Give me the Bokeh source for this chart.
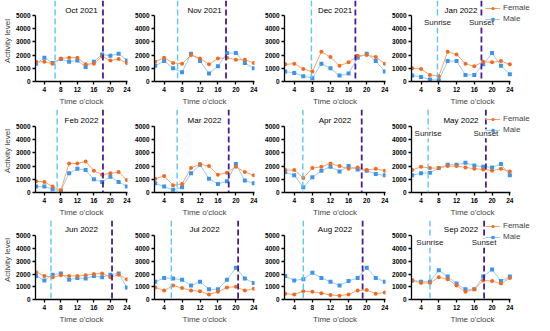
from bokeh.plotting import figure
from bokeh.layouts import gridplot
from bokeh.models import Range1d, Span, Label, Legend, LegendItem, FixedTicker
from bokeh.embed import file_html
from bokeh.resources import INLINE

hours = [2, 4, 6, 8, 10, 12, 14, 16, 18, 20, 22, 24]
months = ["Oct 2021", "Nov 2021", "Dec 2021", "Jan 2022",
          "Feb 2022", "Mar 2022", "Apr 2022", "May 2022",
          "Jun 2022", "Jul 2022", "Aug 2022", "Sep 2022"]

female_oct21 = [1500, 1500, 1350, 1750, 1800, 1800, 1300, 1350, 1900, 1600, 1700, 1400]
male_oct21 = [1350, 1800, 1400, 1700, 1500, 1600, 1100, 1500, 2050, 1950, 2100, 1600]
female_nov21 = [1500, 1800, 1400, 1350, 2000, 1750, 1300, 1750, 1800, 1650, 1650, 1400]
male_nov21 = [1200, 1550, 1000, 700, 2100, 1550, 600, 1150, 2150, 2150, 1400, 1000]
female_dec21 = [1300, 1350, 950, 750, 2250, 1850, 1200, 1450, 1950, 2000, 1850, 1350]
male_dec21 = [750, 650, 400, 250, 1350, 1000, 450, 600, 1800, 2100, 1550, 750]
female_jan22 = [1000, 950, 500, 400, 2250, 2050, 1350, 1150, 1500, 1450, 1550, 1300]
male_jan22 = [450, 350, 150, 100, 1550, 1550, 500, 500, 1300, 2150, 1200, 550]
female_feb22 = [850, 800, 450, 150, 2200, 2200, 2350, 1650, 1350, 1450, 1550, 950]
male_feb22 = [450, 450, 250, 150, 1450, 1800, 1700, 1000, 800, 1200, 800, 450]
female_mar22 = [1050, 1250, 550, 650, 1850, 2150, 2000, 1350, 1500, 1950, 1550, 1300]
male_mar22 = [700, 450, 200, 400, 1450, 2100, 1050, 650, 850, 2150, 900, 700]
female_apr22 = [1700, 1700, 1100, 1850, 1950, 2200, 2000, 1800, 1900, 1700, 1800, 1650]
male_apr22 = [1550, 1300, 400, 1150, 1650, 1950, 1600, 2000, 1750, 1650, 1400, 1300]
female_may22 = [1700, 1950, 1850, 1850, 2000, 2000, 1900, 1800, 1750, 1650, 1800, 1600]
male_may22 = [1300, 1450, 1500, 1850, 2100, 2100, 2250, 2050, 1950, 1900, 2150, 1300]
female_jun22 = [2150, 1850, 1750, 1900, 1850, 1850, 1900, 2000, 2050, 1750, 1950, 1600]
male_jun22 = [1850, 1500, 1950, 2050, 1550, 1700, 1650, 1850, 1750, 1950, 2050, 950]
female_jul22 = [950, 700, 1100, 900, 700, 650, 400, 600, 950, 1000, 700, 850]
male_jul22 = [1400, 1700, 1650, 1550, 1100, 1400, 800, 800, 1550, 2500, 1650, 1300]
female_aug22 = [450, 400, 650, 600, 500, 350, 300, 400, 700, 750, 450, 550]
male_aug22 = [1850, 1500, 1600, 2100, 1700, 1400, 1100, 1450, 1700, 2500, 1700, 1400]
female_sep22 = [1500, 1300, 1300, 1750, 1600, 1100, 600, 800, 1500, 1450, 1250, 1700]
male_sep22 = [1500, 1400, 1400, 2300, 1800, 1250, 800, 800, 1800, 2350, 1450, 1800]

sunrise = [6.6, 7.0, 7.8, 7.7, 7.1, 6.9, 5.9, 5.6, 5.6, 5.6, 6.0, 6.0]
sunset = [18.2, 17.8, 17.5, 17.6, 18.2, 18.4, 18.9, 18.6, 20.4, 20.5, 19.1, 18.2]

x_ticks = [4, 8, 12, 16, 20, 24]
y_ticks = [0, 1000, 2000, 3000, 4000, 5000]

female_all = [female_oct21, female_nov21, female_dec21, female_jan22,
              female_feb22, female_mar22, female_apr22, female_may22,
              female_jun22, female_jul22, female_aug22, female_sep22]
male_all = [male_oct21, male_nov21, male_dec21, male_jan22,
            male_feb22, male_mar22, male_apr22, male_may22,
            male_jun22, male_jul22, male_aug22, male_sep22]

FONT = "Liberation Sans"
F_MARK = "#F26A1F"
F_LINE = "#F6A36C"
M_MARK = "#3C95EA"
M_LINE = "#9CCAF3"
SUNRISE = "#5EC6F5"
SUNSET = "#4A1A9C"

X0, X1 = 1.85, 24.15
PLOT_H = 66                       # pixels from 0 to 5000
col_borders = [(31, 4), (23, 4), (26, 4), (22, 0)]
col_frames = [96, 100, 101, 122]
row_top = [15, 17, 16]            # pixels above the 5000 tick inside frame
row_bottom = [28, 28, 24]
title_off = [5, 6, 6]
legend_y = [58, 58, 58]

grid = []
for r in range(3):
    row = []
    for c in range(4):
        i = r * 4 + c
        lb, rb = col_borders[c]
        fh = PLOT_H + row_top[r]
        fw = col_frames[c]
        ppu = 99 / (X1 - X0) if c == 3 else fw / (X1 - X0)
        x_end = X0 + fw / ppu
        y_end = 5000 + row_top[r] * 5000 / PLOT_H
        p = figure(title=None, output_backend="svg", toolbar_location=None,
                   width=lb + fw + rb, height=fh + row_bottom[r],
                   min_border_left=lb, min_border_right=rb,
                   min_border_top=0, min_border_bottom=row_bottom[r],
                   x_range=Range1d(X0, x_end), y_range=Range1d(0, y_end))
        p.outline_line_color = None
        p.xgrid.visible = False
        p.ygrid.visible = False
        p.background_fill_color = "white"
        p.border_fill_color = "white"

        for ax in (p.xaxis[0], p.yaxis[0]):
            ax.axis_line_width = 1.3
            ax.axis_line_color = "black"
            ax.major_tick_line_width = 1.3
            ax.major_tick_line_color = "black"
            ax.major_tick_out = 3
            ax.major_tick_in = 0
            ax.minor_tick_line_color = None
            ax.major_label_text_font = FONT
            ax.major_label_text_font_size = "6.5px"
            ax.major_label_text_font_style = "bold"
            ax.major_label_text_color = "black"
            ax.major_label_standoff = 2
        p.xaxis[0].bounds = (X0, X1)
        p.yaxis[0].bounds = (0, 5000)
        p.xaxis[0].ticker = FixedTicker(ticks=x_ticks)
        p.yaxis[0].ticker = FixedTicker(ticks=y_ticks)
        p.xaxis[0].axis_label = "Time o'clock"
        p.xaxis[0].axis_label_text_font = FONT
        p.xaxis[0].axis_label_text_font_size = "8px"
        p.xaxis[0].axis_label_text_font_style = "normal"
        p.xaxis[0].axis_label_standoff = 2
        if c == 0:
            p.yaxis[0].axis_label = "Activity level"
            p.yaxis[0].axis_label_text_font = FONT
            p.yaxis[0].axis_label_text_font_size = "8px"
            p.yaxis[0].axis_label_text_font_style = "normal"
            p.yaxis[0].axis_label_standoff = 1

        p.add_layout(Span(location=sunrise[i], dimension="height",
                          line_color=SUNRISE, line_width=1.4, line_dash="6 3"))
        p.add_layout(Span(location=sunset[i], dimension="height",
                          line_color=SUNSET, line_width=1.8, line_dash="6 3"))

        ml = p.line(hours, male_all[i], line_color=M_LINE, line_width=1)
        ms = p.scatter(hours, male_all[i], marker="square", size=4,
                       fill_color=M_MARK, line_color=None)
        fl = p.line(hours, female_all[i], line_color=F_LINE, line_width=1)
        fs = p.scatter(hours, female_all[i], marker="circle", size=4,
                       fill_color=F_MARK, line_color=None)

        p.add_layout(Label(x=13, y=5000, y_offset=title_off[r], text=months[i],
                           text_align="center", text_baseline="middle",
                           text_font=FONT, text_font_size="8px",
                           text_color="black"))

        if c == 3:
            p.add_layout(Label(x=sunrise[i], y=4450, text="Sunrise",
                               text_align="center", text_baseline="middle",
                               text_font=FONT, text_font_size="8px",
                               text_color="#222222",
                               background_fill_color="white"))
            p.add_layout(Label(x=sunset[i], y=4450, text="Sunset",
                               text_align="center", text_baseline="middle",
                               text_font=FONT, text_font_size="8px",
                               text_color="#222222",
                               background_fill_color="white"))
            leg = Legend(items=[LegendItem(label="Female", renderers=[fl, fs]),
                                LegendItem(label="Male", renderers=[ml, ms])],
                         location=(74, legend_y[r]))
            leg.label_text_font = FONT
            leg.label_text_font_size = "8px"
            leg.glyph_width = 15
            leg.glyph_height = 8
            leg.label_height = 9
            leg.label_standoff = 3
            leg.spacing = 2
            leg.padding = 0
            leg.margin = 0
            leg.border_line_alpha = 0
            leg.background_fill_alpha = 0
            p.add_layout(leg, "center")
        row.append(p)
    grid.append(row)

layout = gridplot(grid, toolbar_location=None)
open("out.html", "w").write(file_html(layout, INLINE))
